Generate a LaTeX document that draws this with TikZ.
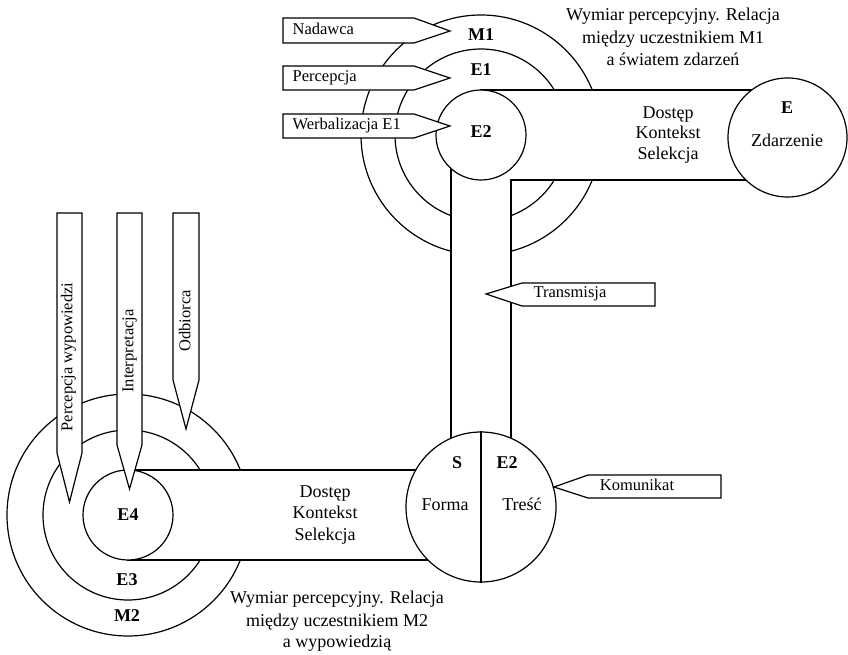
\documentclass[tikz,border=0pt]{standalone}
\usepackage{fontspec}
\setmainfont{Liberation Serif}
\begin{document}
\begin{tikzpicture}[x=1pt,y=-1pt,
  every path/.style={line width=1.2pt, line join=miter},
  disc/.style={circle, draw, fill=white, inner sep=0pt, line width=1.2pt},
  band/.style={draw, fill=white},
  callout/.style={draw, fill=white},
  lbl/.style={inner sep=0pt, text height=1.45ex, text depth=0pt, font=\fontsize{18}{21}\selectfont},
  tag/.style={lbl, font=\fontsize{18}{21}\selectfont\bfseries},
  ctext/.style={inner sep=0pt, text height=1.45ex, text depth=0pt, font=\fontsize{16.5}{19}\selectfont}]
\useasboundingbox (0,0) rectangle (848,655);

% rings of the sender (M1, E1) and the receiver (M2, E3)
\node[disc, minimum size=240pt] (m1) at (481,135) {};
\node[disc, minimum size=172pt] (e1) at (481,135) {};
\node[disc, minimum size=242pt] (m2) at (128,515) {};
\node[disc, minimum size=170pt] (e3) at (128,515) {};

% channels between the circles
\path[band] (481,90) -- (787,90) -- (787,180) -- (511,180) -- (511,507)
  -- (451,507) -- (451,135) -- (481,135) -- cycle;
\path[band] (128,470) -- (481,470) -- (481,560) -- (128,560) -- cycle;

% inner circles
\node[disc, minimum size=90pt]  (e2) at (481,135) {};
\node[disc, minimum size=119pt] (ev) at (787.5,137.5) {};
\node[disc, minimum size=90pt]  (e4) at (128,515) {};
\node[disc, minimum size=150pt] (s)  at (481,507) {};
\draw (s.north) -- (s.south);

% pointer labels
\path[callout] (283,18) -- (414,18) -- (450,31) -- (414,43) -- (283,43) -- cycle;
\path[callout] (283,66) -- (414,66) -- (450,78) -- (414,90) -- (283,90) -- cycle;
\path[callout] (283,114) -- (414,114) -- (450,126) -- (414,138) -- (283,138) -- cycle;
\path[callout] (486,294) -- (522,283) -- (655,283) -- (655,306) -- (522,306) -- cycle;
\path[callout] (554,487) -- (588,475) -- (721,475) -- (721,498) -- (588,498) -- cycle;
\path[callout] (57,213) -- (82,213) -- (82,453) -- (69.5,502) -- (57,453) -- cycle;
\path[callout] (117,213) -- (142,213) -- (142,445) -- (129.5,489) -- (117,445) -- cycle;
\path[callout] (173,213) -- (199,213) -- (199,380) -- (186,429) -- (173,380) -- cycle;

\node[ctext, anchor=west] (tnad) at (292,31) {Nadawca};
\node[ctext, anchor=west] (tper) at (292,78) {Percepcja};
\node[ctext, anchor=west] (twer) at (292,126) {Werbalizacja E1};
\node[ctext] (ttra) at (570,294) {Transmisja};
\node[ctext] (tkom) at (637,487) {Komunikat};
\node[ctext, rotate=90] (tpw) at (69,357) {Percepcja wypowiedzi};
\node[ctext, rotate=90] (tint) at (130,351) {Interpretacja};
\node[ctext, rotate=90] (todb) at (187,321) {Odbiorca};

% circle tags
\node[tag] (lm1) at (481,37) {M1};
\node[tag] (le1) at (481,72) {E1};
\node[tag] (le2) at (481,134) {E2};
\node[tag] (le)  at (787,110) {E};
\node[lbl] (lzd) at (787,143) {Zdarzenie};
\node[tag] (ls)  at (457,465) {S};
\node[tag] (lse2) at (507,465) {E2};
\node[lbl] (lfo) at (445,507) {Forma};
\node[lbl] (ltr) at (522,507) {Treść};
\node[tag] (le4) at (128,517) {E4};
\node[tag] (le3) at (127,582) {E3};
\node[tag] (lm2) at (127,618) {M2};

% channel texts
\node[lbl] (d1) at (668,115) {Dostęp};
\node[lbl] (d2) at (668,135) {Kontekst};
\node[lbl] (d3) at (668,156) {Selekcja};
\node[lbl] (d4) at (325,494) {Dostęp};
\node[lbl] (d5) at (325,515) {Kontekst};
\node[lbl] (d6) at (325,537) {Selekcja};

% perceptual dimension notes
\node[lbl] (w1) at (673,17) {Wymiar percepcyjny. Relacja};
\node[lbl] (w2) at (673,40) {między uczestnikiem M1};
\node[lbl] (w3) at (673,62) {a światem zdarzeń};
\node[lbl] (w4) at (337,600) {Wymiar percepcyjny. Relacja};
\node[lbl] (w5) at (337,623) {między uczestnikiem M2};
\node[lbl] (w6) at (337,644) {a wypowiedzią};
\end{tikzpicture}
\end{document}
